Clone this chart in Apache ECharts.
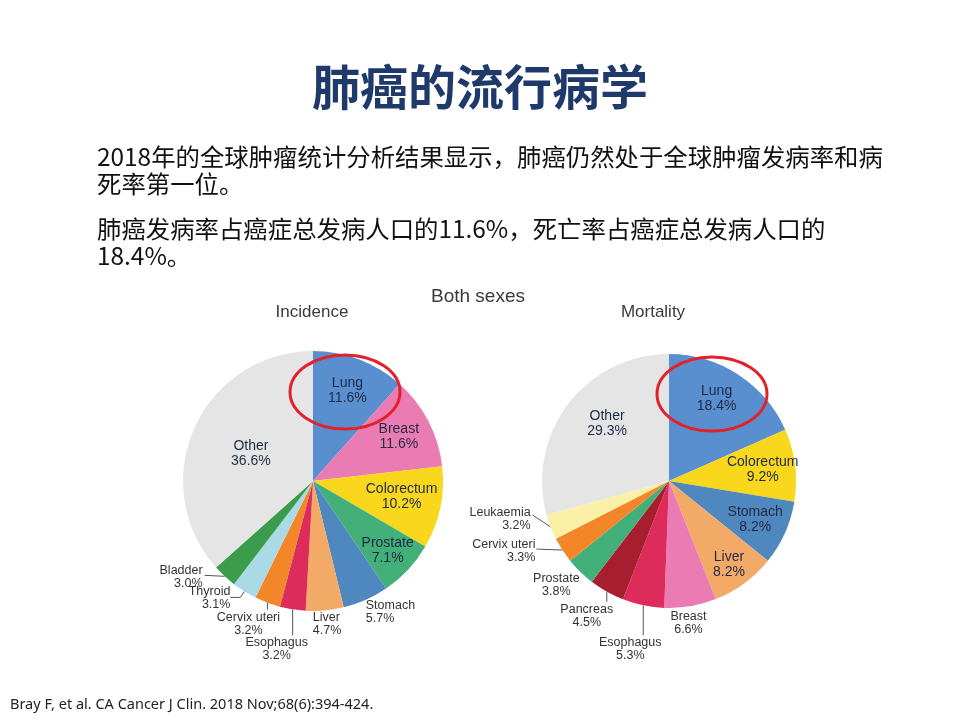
<!DOCTYPE html>
<html><head><meta charset="utf-8">
<script src="https://cdn.jsdelivr.net/npm/echarts@6/dist/echarts.min.js"></script>
<style>html,body{margin:0;padding:0;background:#fff}#c{width:960px;height:720px}</style>
</head><body><div id="c"></div>
<script>
// ---------- data ----------
const incidenceCategories = ['Lung','Breast','Colorectum','Prostate','Stomach','Liver','Esophagus','Cervix uteri','Thyroid','Bladder','Other'];
const incidenceValues = [11.6, 11.6, 10.2, 7.1, 5.7, 4.7, 3.2, 3.2, 3.1, 3.0, 36.6];
const mortalityCategories = ['Lung','Colorectum','Stomach','Liver','Breast','Esophagus','Pancreas','Prostate','Cervix uteri','Leukaemia','Other'];
const mortalityValues = [18.4, 9.2, 8.2, 8.2, 6.6, 5.3, 4.5, 3.8, 3.3, 3.2, 29.3];

const titleText = '肺癌的流行病学';
const paragraph1 = ['2018年的全球肿瘤统计分析结果显示，肺癌仍然处于全球肿瘤发病率和病', '死率第一位。'];
const paragraph2 = ['肺癌发病率占癌症总发病人口的11.6%，死亡率占癌症总发病人口的', '18.4%。'];
const chartHeading = 'Both sexes';
const pieTitles = ['Incidence', 'Mortality'];
const sourceText = 'Bray F, et al. CA Cancer J Clin. 2018 Nov;68(6):394-424.';

// ---------- style ----------
const colors = {
  'Lung':'#5a8fcf','Breast':'#eb7bb3','Colorectum':'#f9d71c','Prostate':'#43af79',
  'Stomach':'#4f87bf','Liver':'#f3aa66','Esophagus':'#dd2b5c','Cervix uteri':'#f4862a',
  'Thyroid':'#a9dbe6','Bladder':'#3b9c4b','Other':'#e5e5e5','Pancreas':'#a71f2e','Leukaemia':'#fbf1a6'
};
const insideNames = {
  inc: ['Lung','Breast','Colorectum','Prostate'],
  mor: ['Lung','Colorectum','Stomach','Liver']
};
const insideShift = {
  inc: {'Colorectum':[-6,-4], 'Prostate':[4,4]},
  mor: {'Other':[-9,-17], 'Liver':[4,8], 'Lung':[-4,-3]}
};
const outsideCfg = {
  inc: {
    'Stomach': {dx:0, dy:-1, align:'left', line:[]},
    'Liver': {dx:-12, dy:1, align:'left', line:[]},
    'Esophagus': {dx:-16, dy:27, align:'center', line:[[0,0],[0,26]]},
    'Cervix uteri': {dx:-19, dy:8, align:'center', line:[[0,0],[0,7]]},
    'Thyroid': {dx:-14, dy:-6, align:'right', line:[[0,0],[-4,6],[-14,6]]},
    'Bladder': {dx:-22, dy:-12, align:'right', line:[[0,0],[-20,-1]]}
  },
  mor: {
    'Breast': {dx:-2, dy:4, align:'center', line:[]},
    'Esophagus': {dx:-13, dy:31, align:'center', line:[[0,0],[0,30]]},
    'Pancreas': {dx:-20, dy:11, align:'center', line:[[0,0],[0,10]]},
    'Prostate': {dx:-24, dy:0, align:'center', line:[]},
    'Cervix uteri': {dx:-27, dy:-12, align:'right', line:[[0,0],[-26,-1]]},
    'Leukaemia': {dx:-20, dy:-21, align:'right', line:[[0,0],[-18,-12]]}
  }
};
const pies = {
  inc: {center:[313,481], r:130},
  mor: {center:[669,481], r:127}
};
const insideFont = {fontSize:14, lineHeight:15, color:'#1f2a44', fontFamily:'Liberation Sans'};
const outsideFont = {fontSize:12.5, lineHeight:13, color:'#333', fontFamily:'Liberation Sans'};

const chart = echarts.init(document.getElementById('c'), null, {renderer:'canvas'});

function fmt(p){ return p.name + '\n' + p.value.toFixed(1) + '%'; }

function mainData(cats, vals, key){
  return cats.map((n,i)=>{
    const d = {name:n, value:vals[i], itemStyle:{color:colors[n]}};
    if (insideNames[key].indexOf(n) >= 0) {
      d.label = {show:false}; d.labelLine = {show:false};
    } else if (n === 'Other') {
      d.label = Object.assign({show:true, position:'inside'}, insideFont); d.labelLine = {show:false};
    } else {
      const c = outsideCfg[key][n];
      d.label = Object.assign({show:true, position:'outside'}, outsideFont);
      d.labelLine = {show: c.line.length > 0};
    }
    return d;
  });
}
function overlayData(cats, vals, key){
  return cats.map((n,i)=>({
    name:n, value:vals[i],
    label: insideNames[key].indexOf(n) >= 0 ? Object.assign({show:true, position:'inside'}, insideFont) : {show:false}
  }));
}
function makeLayout(seriesIndex, cats, key){
  return function(p){
    const n = cats[p.dataIndex];
    const s = insideShift[key][n];
    const c = outsideCfg[key][n];
    if (!c) return s ? {dx:s[0], dy:s[1]} : {};
    const lay = chart.getModel().getSeriesByIndex(seriesIndex).getData().getItemLayout(p.dataIndex);
    const mid = (lay.startAngle + lay.endAngle) / 2;
    const ex = lay.cx + lay.r * Math.cos(mid), ey = lay.cy + lay.r * Math.sin(mid);
    const res = {x: ex + c.dx, y: ey + c.dy, align: c.align, verticalAlign: 'top'};
    if (c.line.length) res.labelLinePoints = c.line.map(o => [ex + o[0], ey + o[1]]);
    return res;
  };
}
function shiftLayout(cats, key){
  return function(p){
    const s = insideShift[key][cats[p.dataIndex]];
    return s ? {dx:s[0], dy:s[1]} : {};
  };
}
function mainSeries(idx, cats, vals, key){
  return {
    type:'pie', center:pies[key].center, radius:pies[key].r, startAngle:90, clockwise:true,
    avoidLabelOverlap:false, animation:false, emphasis:{disabled:true},
    itemStyle:{borderWidth:0},
    label:{formatter:fmt},
    labelLine:{length:8, length2:8, lineStyle:{color:'#555', width:1}},
    labelLayout: makeLayout(idx, cats, key),
    data: mainData(cats, vals, key)
  };
}
function overlaySeries(cats, vals, key){
  const r = pies[key].r;
  return {
    type:'pie', center:pies[key].center, radius:[r*0.44, r], startAngle:90, clockwise:true,
    silent:true, animation:false, emphasis:{disabled:true}, avoidLabelOverlap:false,
    itemStyle:{color:'rgba(0,0,0,0)', borderWidth:0},
    label:{formatter:fmt}, labelLine:{show:false},
    labelLayout: shiftLayout(cats, key),
    data: overlayData(cats, vals, key), z:3
  };
}

const graphics = [
  {type:'text', x:480, y:87, style:{text:titleText, font:'bold 48px "Noto Sans CJK SC"', fill:'#1f3a6a', align:'center', verticalAlign:'middle'}},
  {type:'text', x:97, y:143, style:{text:paragraph1.join('\n'), font:'24.4px "Noto Sans CJK SC"', lineHeight:27, fill:'#111', align:'left', verticalAlign:'top'}},
  {type:'text', x:97, y:215, style:{text:paragraph2.join('\n'), font:'24.4px "Noto Sans CJK SC"', lineHeight:27, fill:'#111', align:'left', verticalAlign:'top'}},
  {type:'text', x:478, y:297, style:{text:chartHeading, font:'19px "Liberation Sans"', fill:'#3a3a3a', align:'center', verticalAlign:'middle'}},
  {type:'text', x:312, y:312, style:{text:pieTitles[0], font:'17px "Liberation Sans"', fill:'#3a3a3a', align:'center', verticalAlign:'middle'}},
  {type:'text', x:653, y:312, style:{text:pieTitles[1], font:'17px "Liberation Sans"', fill:'#3a3a3a', align:'center', verticalAlign:'middle'}},
  {type:'text', x:10, y:705, style:{text:sourceText, font:'14.5px "Noto Sans"', fill:'#222', align:'left', verticalAlign:'middle'}},
  {type:'ellipse', z:100, shape:{cx:345, cy:392, rx:55, ry:37}, style:{fill:'none', stroke:'#e3212b', lineWidth:3}},
  {type:'ellipse', z:100, shape:{cx:712, cy:394, rx:55, ry:37}, style:{fill:'none', stroke:'#e3212b', lineWidth:3}}
];

chart.setOption({
  backgroundColor:'#fff',
  animation:false,
  graphic: graphics,
  series:[
    mainSeries(0, incidenceCategories, incidenceValues, 'inc'),
    overlaySeries(incidenceCategories, incidenceValues, 'inc'),
    mainSeries(2, mortalityCategories, mortalityValues, 'mor'),
    overlaySeries(mortalityCategories, mortalityValues, 'mor')
  ]
});
</script></body></html>
